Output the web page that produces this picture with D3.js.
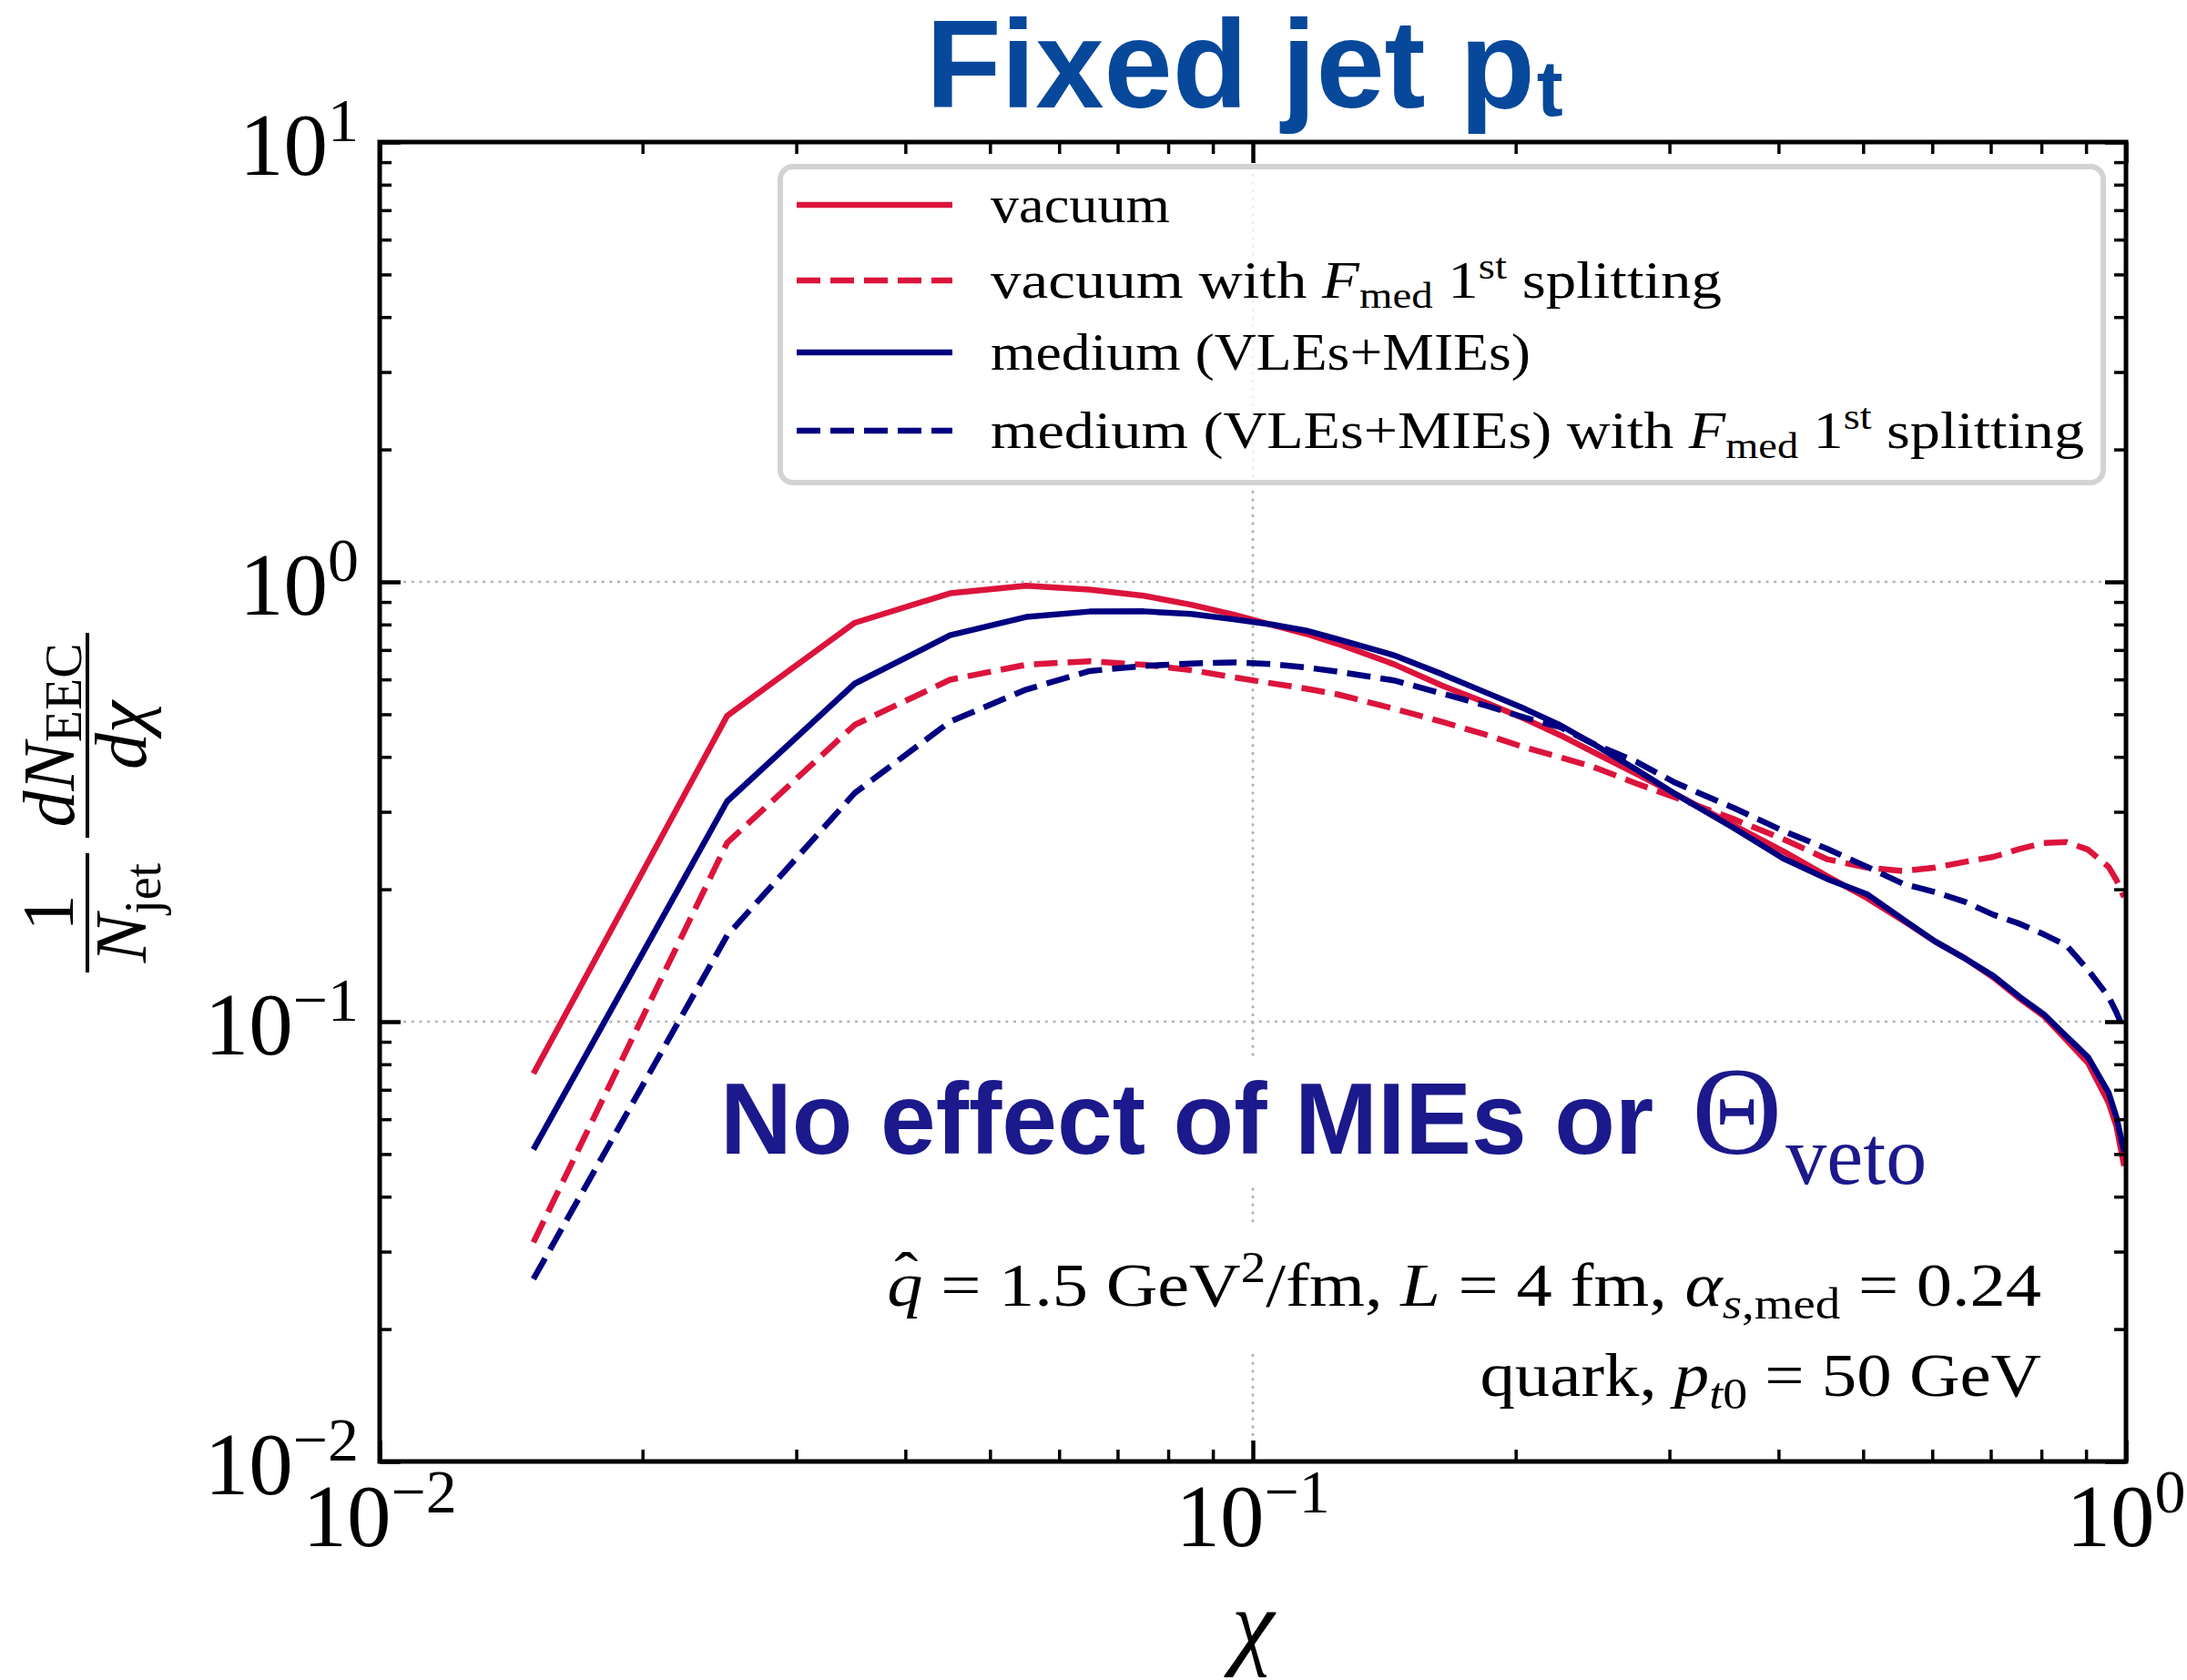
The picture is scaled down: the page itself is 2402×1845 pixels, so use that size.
<!DOCTYPE html>
<html>
<head>
<meta charset="utf-8">
<script src="https://cdn.jsdelivr.net/npm/d3@7"></script>
<style>
  html, body { margin: 0; padding: 0; background: #fff; }
  svg { display: block; }
</style>
</head>
<body>
<script>
// ---- data: EEC distributions vs chi (bin centres) ----
const chi = [0.015, 0.025, 0.035, 0.045, 0.055, 0.065, 0.075, 0.085, 0.095, 0.105,
             0.115, 0.125, 0.145, 0.165, 0.185, 0.205, 0.225, 0.245, 0.275, 0.305,
             0.355, 0.405, 0.455, 0.505, 0.555, 0.605, 0.655, 0.705, 0.755, 0.805,
             0.855, 0.905, 0.955, 0.975, 0.995];

const vacuum = [0.0762, 0.496, 0.807, 0.942, 0.980, 0.960, 0.930, 0.887, 0.843, 0.799,
                0.762, 0.723, 0.650, 0.580, 0.531, 0.488, 0.448, 0.411, 0.366, 0.329,
                0.280, 0.244, 0.214, 0.191, 0.170, 0.152, 0.139, 0.126, 0.113, 0.103,
                0.0908, 0.0805, 0.0655, 0.0579, 0.0470];

const vacuumFmed = [0.0315, 0.255, 0.473, 0.599, 0.648, 0.660, 0.648, 0.630, 0.607, 0.588,
                    0.572, 0.555, 0.515, 0.480, 0.449, 0.420, 0.399, 0.380, 0.348, 0.323,
                    0.289, 0.260, 0.234, 0.224, 0.220, 0.224, 0.231, 0.237, 0.247, 0.255,
                    0.256, 0.246, 0.225, 0.210, 0.192];

const medium = [0.0512, 0.317, 0.587, 0.756, 0.832, 0.856, 0.857, 0.845, 0.822, 0.800,
                0.775, 0.741, 0.681, 0.616, 0.560, 0.514, 0.472, 0.429, 0.374, 0.329,
                0.276, 0.235, 0.211, 0.195, 0.171, 0.152, 0.139, 0.127, 0.114, 0.104,
                0.0925, 0.0830, 0.0690, 0.0607, 0.0506];

const mediumFmed = [0.026, 0.157, 0.331, 0.481, 0.569, 0.627, 0.644, 0.652, 0.656, 0.650,
                    0.639, 0.625, 0.597, 0.557, 0.523, 0.491, 0.467, 0.429, 0.390, 0.349,
                    0.3065, 0.2715, 0.247, 0.225, 0.206, 0.197, 0.187, 0.175, 0.167, 0.158,
                    0.149, 0.131, 0.114, 0.105, 0.0955];

// tick exponents (labels are 10^e)
const xTickExps = [-2, -1, 0];
const yTickExps = [-2, -1, 0, 1];

// legend labels as rich-text segments: [text, flags] (i italic, b subscript, p superscript)
const legendLabels = [
  [["vacuum"]],
  [["vacuum with "], ["F", "i"], ["med", "b"], [" 1"], ["st", "p"], [" splitting"]],
  [["medium (VLEs+MIEs)"]],
  [["medium (VLEs+MIEs) with "], ["F", "i"], ["med", "b"], [" 1"], ["st", "p"], [" splitting"]]
];

const annotationLines = [
  [["q", "i"], ["\u02C6", "h"], [" = 1.5 GeV"], ["2", "p"], ["/fm, "], ["L", "i"], [" = 4 fm, "],
   ["\u03B1", "i"], ["s", "ib"], [",med", "b"], [" = 0.24"]],
  [["quark, "], ["p", "i"], ["t", "ib"], ["0", "b"], [" = 50 GeV"]]
];

// ---- layout ----
const W = 2402, H = 1845;
const M = { left: 417, right: 2335, top: 156, bottom: 1605 };
const RED = "#dc143c", NAVY = "#000080";
const SERIF = '"Liberation Serif", "Times New Roman", serif';
const SANS = '"Liberation Sans", Arial, Helvetica, sans-serif';

const x = d3.scaleLog().domain([0.01, 1]).range([M.left, M.right]);
const y = d3.scaleLog().domain([0.01, 10]).range([M.bottom, M.top]);

const svg = d3.select("body").append("svg")
  .attr("width", W).attr("height", H)
  .style("font-family", SERIF);

svg.append("rect").attr("width", W).attr("height", H).attr("fill", "#fff");

svg.append("defs").append("clipPath").attr("id", "plotClip")
  .append("rect")
  .attr("x", M.left).attr("y", M.top)
  .attr("width", M.right - M.left).attr("height", M.bottom - M.top);

// rich text helper: tspans with sub/superscripts
function addRich(parent, segs, fs, attrs, opt) {
  const o = Object.assign({ sub: 0.2, sup: 0.38, small: 0.7 }, opt || {});
  const t = parent.append("text").style("white-space", "pre");
  Object.entries(attrs || {}).forEach(([k, v]) => t.attr(k, v));
  let cur = 0, pendingDx = 0;
  segs.forEach(([str, f = ""]) => {
    const ts = t.append("tspan").text(str);
    if (f.includes("h")) {
      // circumflex accent placed over the previous glyph
      const lift = -0.17 * fs;
      ts.attr("font-size", fs).attr("dx", -0.40 * fs).attr("dy", lift - cur);
      cur = lift;
      pendingDx = 0.40 * fs - 0.333 * fs;
      return;
    }
    const small = f.includes("b") || f.includes("p");
    const target = f.includes("b") ? o.sub * fs : f.includes("p") ? -o.sup * fs : 0;
    ts.attr("font-size", small ? o.small * fs : fs).attr("dy", target - cur);
    if (pendingDx) { ts.attr("dx", pendingDx); pendingDx = 0; }
    if (f.includes("i")) ts.attr("font-style", "italic");
    cur = target;
  });
  return t;
}
function stretch(t, k) {
  const w = t.node().getComputedTextLength();
  t.attr("textLength", w * k).attr("lengthAdjust", "spacingAndGlyphs");
  return w * k;
}
function whiteBox(parent, before, x0, y0, x1, y1) {
  parent.insert("rect", () => before.node())
    .attr("x", x0).attr("y", y0).attr("width", x1 - x0).attr("height", y1 - y0)
    .attr("fill", "#fff");
}

// ---- grid (dotted, at interior major ticks) ----
const grid = svg.append("g")
  .attr("stroke", "#b3b3b3").attr("stroke-width", 2.7)
  .attr("stroke-dasharray", "3,5.7").attr("fill", "none");
yTickExps.map(e => Math.pow(10, e)).filter(v => v > 0.01 && v < 10).forEach(v => {
  grid.append("line").attr("x1", M.left).attr("x2", M.right).attr("y1", y(v)).attr("y2", y(v));
});
xTickExps.map(e => Math.pow(10, e)).filter(v => v > 0.01 && v < 1).forEach(v => {
  grid.append("line").attr("x1", x(v)).attr("x2", x(v)).attr("y1", M.top).attr("y2", M.bottom);
});

// ---- curves ----
const series = [
  { values: vacuum, color: RED, dash: null },
  { values: vacuumFmed, color: RED, dash: "26,11" },
  { values: medium, color: NAVY, dash: null },
  { values: mediumFmed, color: NAVY, dash: "26,11" }
];
const line = d3.line().x((d, i) => x(chi[i])).y(d => y(d));
const curves = svg.append("g").attr("clip-path", "url(#plotClip)");
series.forEach(s => {
  curves.append("path")
    .attr("d", line(s.values))
    .attr("fill", "none")
    .attr("stroke", s.color)
    .attr("stroke-width", 6.5)
    .attr("stroke-linejoin", "round")
    .attr("stroke-dasharray", s.dash);
});

// ---- in-plot statement ----
const noteG = svg.append("g").attr("fill", "#1b198b");
const noteX = 791, noteBase = 1267;
const noteSans = noteG.append("text").text("No effect of MIEs or")
  .attr("x", noteX).attr("y", noteBase)
  .attr("font-family", SANS).attr("font-weight", "bold").attr("font-size", 112);
const sansLen = stretch(noteSans, 0.975);
const thetaX = noteX + sansLen + 42;
const noteTheta = noteG.append("text").text("\u0398")
  .attr("x", thetaX).attr("y", noteBase)
  .attr("font-family", SERIF).attr("font-size", 137);
const thetaLen = noteTheta.node().getComputedTextLength();
const noteSub = noteG.append("text").text("veto")
  .attr("x", thetaX + thetaLen + 4).attr("y", noteBase + 33)
  .attr("font-family", SERIF).attr("font-size", 90);
const subEnd = thetaX + thetaLen + 4 + noteSub.node().getComputedTextLength();
whiteBox(noteG, noteSans, noteX - 8, 1160, subEnd + 8, 1302);

// ---- parameter annotations ----
const annG = svg.append("g");
const annBaselines = [1434, 1533];
annotationLines.forEach((segs, i) => {
  const t = addRich(annG, segs, 68, { x: 2242, y: annBaselines[i], "text-anchor": "end", fill: "#000" });
  stretch(t, 1.13);
  const b = t.node().getBBox();
  if (i === 0) whiteBox(annG, t, b.x - 12, 1348, b.x + b.width + 12, 1483);
  else whiteBox(annG, t, b.x - 12, b.y - 6, b.x + b.width + 12, b.y + b.height + 6);
});

// ---- axes: inward ticks on all four sides ----
const pow = e => Math.pow(10, e);
const xMajor = xTickExps.map(pow);
const yMajor = yTickExps.map(pow);
const xMinor = x.ticks().filter(v => !xMajor.some(m => Math.abs(m - v) / m < 1e-9));
const yMinor = y.ticks().filter(v => !yMajor.some(m => Math.abs(m - v) / m < 1e-9));

function drawAxis(gen, tx, ty, values, size, width) {
  const g = svg.append("g").attr("transform", `translate(${tx},${ty})`)
    .call(gen.tickValues(values).tickSize(size).tickFormat(""));
  g.select(".domain").remove();
  g.selectAll(".tick line").attr("stroke", "#000").attr("stroke-width", width);
}
[[xMajor, 23, 4.5], [xMinor, 13, 3.5]].forEach(([vals, sz, w]) => {
  drawAxis(d3.axisTop(x), 0, M.bottom, vals, sz, w);
  drawAxis(d3.axisBottom(x), 0, M.top, vals, sz, w);
});
[[yMajor, 23, 4.5], [yMinor, 13, 3.5]].forEach(([vals, sz, w]) => {
  drawAxis(d3.axisRight(y), M.left, 0, vals, sz, w);
  drawAxis(d3.axisLeft(y), M.right, 0, vals, sz, w);
});

// frame
svg.append("rect")
  .attr("x", M.left).attr("y", M.top)
  .attr("width", M.right - M.left).attr("height", M.bottom - M.top)
  .attr("fill", "none").attr("stroke", "#000").attr("stroke-width", 5);

// tick labels 10^e
const expText = e => (e < 0 ? "\u2212" + (-e) : String(e));
xTickExps.forEach(e => {
  addRich(svg, [["10"], [expText(e), "p"]], 97,
    { x: x(pow(e)), y: 1698, "text-anchor": "middle", fill: "#000" });
});
yTickExps.forEach(e => {
  addRich(svg, [["10"], [expText(e), "p"]], 97,
    { x: 394, y: y(pow(e)) + 36, "text-anchor": "end", fill: "#000" });
});

// axis titles
svg.append("text").text("\u03C7")
  .attr("x", x(0.1)).attr("y", 1819).attr("text-anchor", "middle")
  .attr("font-size", 106).attr("font-style", "italic");

const yl = svg.append("g").attr("transform", "translate(96,0) rotate(-90)");
function fraction(cu, halfLen, numSegs, denSegs, numBase, denBase, numOpt) {
  yl.append("line").attr("x1", cu - halfLen).attr("x2", cu + halfLen)
    .attr("y1", 0).attr("y2", 0).attr("stroke", "#000").attr("stroke-width", 4);
  addRich(yl, numSegs, 80, { x: cu, y: numBase, "text-anchor": "middle" }, numOpt);
  addRich(yl, denSegs, 80, { x: cu, y: denBase, "text-anchor": "middle" });
}
fraction(-1002.5, 65.5, [["1"]], [["N", "i"], ["jet", "b"]], -16, 64);
fraction(-807.5, 112.5, [["d", "i"], ["N", "i"], ["EEC", "b"]], [["d", "i"], ["\u03C7", "i"]], -15, 64,
  { sub: 0.1, small: 0.72 });

// ---- legend ----
const lg = svg.append("g");
lg.append("rect")
  .attr("x", 857).attr("y", 183).attr("width", 1453).attr("height", 347).attr("rx", 14)
  .attr("fill", "#fff").attr("fill-opacity", 0.8)
  .attr("stroke", "#d3d3d3").attr("stroke-width", 6);
const legendY = [225, 308, 387, 473];
const legendTextX = 1088;
const legendTextEnd = [1285, 1891, 1681, 2289];
series.forEach((s, i) => {
  lg.append("line")
    .attr("x1", 875).attr("x2", 1046).attr("y1", legendY[i]).attr("y2", legendY[i])
    .attr("stroke", s.color).attr("stroke-width", 6.5)
    .attr("stroke-dasharray", s.dash);
  addRich(lg, legendLabels[i], 56, { x: legendTextX, y: legendY[i] + 19, fill: "#000" })
    .attr("textLength", legendTextEnd[i] - legendTextX)
    .attr("lengthAdjust", "spacingAndGlyphs");
});

// ---- title ----
const title = svg.append("text")
  .attr("x", 1017).attr("y", 118)
  .attr("font-family", SANS).attr("font-weight", "bold")
  .attr("fill", "#07489b").style("white-space", "pre");
title.append("tspan").text("Fixed jet p").attr("font-size", 137);
title.append("tspan").text("t").attr("font-size", 88).attr("dx", 2).attr("dy", 9);
stretch(title, 0.99);
</script>
</body>
</html>
